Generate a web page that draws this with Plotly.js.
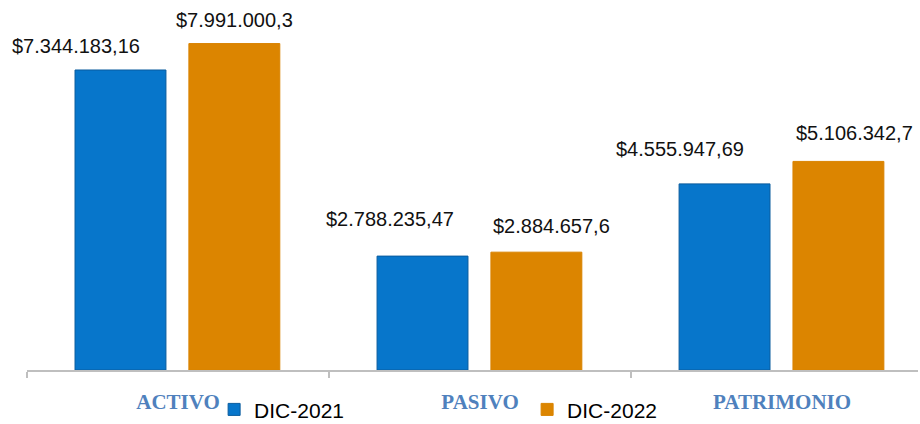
<!DOCTYPE html>
<html><head><meta charset="utf-8">
<script src="https://cdn.plot.ly/plotly-3.0.1.min.js"></script>
<style>html,body{margin:0;padding:0;background:#fff}#c{width:920px;height:424px}</style>
</head><body><div id="c"></div>
<script>
const categories = ['ACTIVO', 'PASIVO', 'PATRIMONIO'];
const seriesNames = ['DIC-2021', 'DIC-2022'];
const dic2021 = [7344183.16, 2788235.47, 4555947.69];
const dic2022 = [7991000.3, 2884657.6, 5106342.7];

function fmt(v) {
  const s = String(v).split('.');
  const ip = s[0].replace(/\B(?=(\d{3})+(?!\d))/g, '.');
  return '$' + ip + (s[1] ? ',' + s[1] : '');
}

const BLUE = '#0776CB', ORANGE = '#DC8500';
const W = 0.301;
const traces = [
  {type:'bar', name: seriesNames[0], x: categories, y: dic2021, offset: -0.341, width: W,
   marker:{color: BLUE, line:{color:'#0A5C9E', width:1}}, hoverinfo:'none'},
  {type:'bar', name: seriesNames[1], x: categories, y: dic2022, offset: 0.036, width: W,
   marker:{color: ORANGE, line:{color:'#D98300', width:1}}, hoverinfo:'none'}
];

// label placement tweaks (px)
const shifts2021 = [{x:-56,y:11},{x:-44,y:24},{x:-56,y:22}];
const shifts2022 = [{x:0,y:11},{x:15,y:13},{x:16,y:15}];
const ann = [];
categories.forEach((c,i)=>{
  ann.push({x:c, y:dic2021[i], xref:'x', yref:'y', text: fmt(dic2021[i]), showarrow:false,
    xanchor:'center', yanchor:'bottom', xshift: -0.1525*302 + shifts2021[i].x, yshift: shifts2021[i].y,
    font:{family:'Liberation Sans, Arial, sans-serif', size:20, color:'#111'}});
  ann.push({x:c, y:dic2022[i], xref:'x', yref:'y', text: fmt(dic2022[i]), showarrow:false,
    xanchor:'center', yanchor:'bottom', xshift: 0.1865*302 + shifts2022[i].x, yshift: shifts2022[i].y,
    font:{family:'Liberation Sans, Arial, sans-serif', size:20, color:'#111'}});
});

const layout = {
  width:920, height:424,
  margin:{l:27, r:2, t:20, b:54, autoexpand:false},
  paper_bgcolor:'#fff', plot_bgcolor:'#fff',
  barmode:'overlay',
  showlegend:true,
  legend:{orientation:'h', x:0.21, xanchor:'left', y:-0.055, yanchor:'top',
    entrywidth:268, entrywidthmode:'pixels',
    font:{family:'Liberation Sans, Arial, sans-serif', size:21, color:'#000'},
    itemwidth:30, bgcolor:'rgba(0,0,0,0)'},
  xaxis:{type:'category', range:[-0.5, 2.45], showline:true, linecolor:'#BFBFBF', linewidth:1.5,
    ticks:'outside', tickson:'boundaries', ticklen:6, tickcolor:'#BFBFBF', tickwidth:1.5,
    showgrid:false, zeroline:false, fixedrange:true,
    tickfont:{family:'Liberation Serif, Times New Roman, serif', size:21, color:'#4F81BD', weight:'bold'},
    ticklabelstandoff:12},
  yaxis:{range:[0, 8568000], visible:false, showgrid:false, zeroline:false, fixedrange:true},
  annotations: ann,
  font:{family:'Liberation Sans, Arial, sans-serif'}
};
Plotly.newPlot('c', traces, layout, {displayModeBar:false, staticPlot:true});
</script></body></html>
